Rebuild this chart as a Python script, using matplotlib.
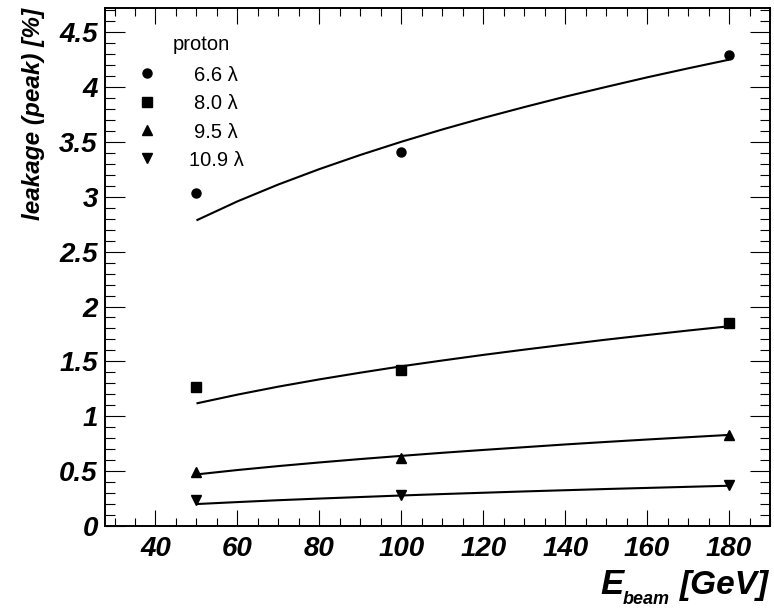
import matplotlib
matplotlib.use("Agg")
import matplotlib.pyplot as plt
from matplotlib.ticker import MultipleLocator, FuncFormatter

# beam energies of the measured points [GeV]
energy = [50, 100, 180]

# peak leakage [%] per calorimeter depth
leak_66 = [3.03, 3.41, 4.29]
leak_80 = [1.27, 1.42, 1.85]
leak_95 = [0.49, 0.62, 0.83]
leak_109 = [0.24, 0.28, 0.37]

# fitted curves
fit_e = [50, 60, 70, 80, 90, 100, 110, 120, 130, 140, 150, 160, 170, 180]
fit_66 = [2.785, 2.958, 3.112, 3.252, 3.381, 3.501, 3.613, 3.718, 3.817, 3.912, 4.001, 4.088, 4.170, 4.249]
fit_80 = [1.117, 1.197, 1.270, 1.336, 1.397, 1.455, 1.508, 1.559, 1.607, 1.653, 1.698, 1.740, 1.781, 1.820]
fit_95 = [0.470, 0.510, 0.546, 0.579, 0.610, 0.639, 0.667, 0.693, 0.718, 0.743, 0.766, 0.788, 0.809, 0.830]
fit_109 = [0.200, 0.218, 0.235, 0.250, 0.264, 0.278, 0.291, 0.303, 0.315, 0.326, 0.337, 0.347, 0.357, 0.367]

labels = ["6.6 λ", "8.0 λ", "9.5 λ", "10.9 λ"]
markers = ["o", "s", "^", "v"]

plt.rcParams['font.family'] = ['Liberation Sans', 'DejaVu Sans']

fig = plt.figure(figsize=(7.74, 6.11), dpi=100)
ax = fig.add_axes([104.7 / 774, 85 / 611, 665.3 / 774, 518 / 611])

series = [(leak_66, fit_66), (leak_80, fit_80), (leak_95, fit_95), (leak_109, fit_109)]
for (pts, fit), m in zip(series, markers):
    ax.plot(fit_e, fit, color='black', lw=1.5, solid_capstyle='butt')
    ax.plot(energy, pts, ls='none', marker=m, ms=6.5, color='black')

ax.set_xlim(27.6, 190)
ax.set_ylim(0, 4.72)

ax.xaxis.set_major_locator(MultipleLocator(20))
ax.xaxis.set_minor_locator(MultipleLocator(5))
ax.yaxis.set_major_locator(MultipleLocator(0.5))
ax.yaxis.set_minor_locator(MultipleLocator(0.1))
ax.yaxis.set_major_formatter(FuncFormatter(lambda v, p: "%g" % v))

for s in ax.spines.values():
    s.set_linewidth(1.4)

ax.tick_params(which='both', direction='in', top=True, right=True)
ax.tick_params(axis='x', which='major', length=11.2, width=0.8, pad=7)
ax.tick_params(axis='x', which='minor', length=5.6, width=0.8)
ax.tick_params(axis='y', which='major', length=14.4, width=0.8, pad=5)
ax.tick_params(axis='y', which='minor', length=7.2, width=0.8)
for t in ax.get_xticklabels() + ax.get_yticklabels():
    t.set_fontsize(20)
    t.set_fontweight('bold')
    t.set_fontstyle('italic')

# x title: E with subscript "beam", then unit (ROOT style, right aligned)
tf = fig.transFigure
bold_it = dict(fontweight='bold', fontstyle='italic', va='baseline', transform=tf)
fig.text(600 / 774, 1 - 594 / 611, "E", fontsize=25, ha='left', **bold_it)
fig.text(623 / 774, 1 - 604 / 611, "beam", fontsize=13, ha='left', **bold_it)
fig.text(769 / 774, 1 - 594 / 611, "[GeV]", fontsize=24, ha='right', **bold_it)

yl = ax.set_ylabel('leakage (peak) [%]', fontsize=17.5, fontweight='bold', fontstyle='italic')
yl.set_rotation_mode('default')
ax.yaxis.set_label_coords(-0.1063, 1.0)
yl.set_ha('center')
yl.set_va('top')

# legend drawn like the ROOT TLegend
ax.text(0.1452, 0.9305, "proton", transform=ax.transAxes, ha='center', va='center', fontsize=14.5)
rows = [0.874, 0.819, 0.764, 0.710]
for lab, m, yy in zip(labels, markers, rows):
    ax.plot([0.0631], [yy], marker=m, ms=6.5, color='black', ls='none',
            transform=ax.transAxes, clip_on=False)
    ax.text(0.1673, yy - 0.004, lab, transform=ax.transAxes, ha='center', va='center', fontsize=14.5)

fig.savefig("out.png", dpi=100)
